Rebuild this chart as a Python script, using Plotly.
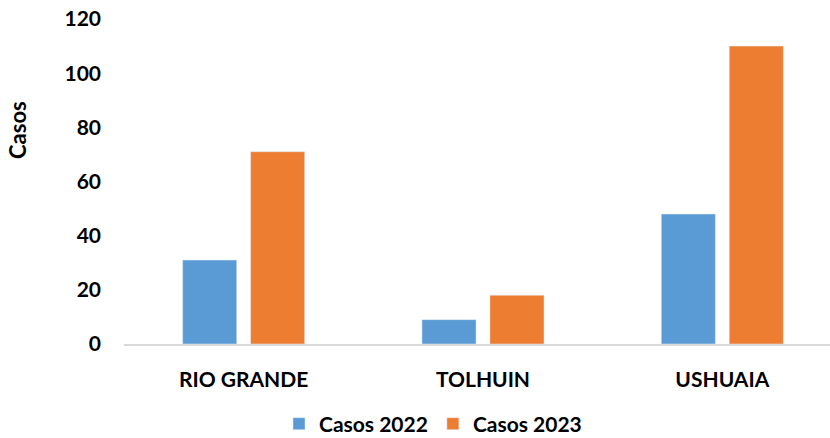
import plotly.graph_objects as go

categories = ["RIO GRANDE", "TOLHUIN", "USHUAIA"]
casos_2022 = [31, 9, 48]
casos_2023 = [71, 18, 110]
y_ticks = [0, 20, 40, 60, 80, 100, 120]

FONT = dict(family="Lato", size=21, color="black", weight="bold")

fig = go.Figure()
fig.add_trace(go.Bar(name="Casos 2022", x=categories, y=casos_2022, marker_color="#5B9BD5"))
fig.add_trace(go.Bar(name="Casos 2023", x=categories, y=casos_2023, marker_color="#ED7D31"))

W, H = 830, 438
L, R, T, B = 124, 0, 19, 94
PW, PH = W - L - R, H - T - B

fig.update_layout(
    width=W, height=H,
    margin=dict(l=L, r=R, t=T, b=B, autoexpand=False),
    paper_bgcolor="white", plot_bgcolor="white",
    barmode="group", bargap=0.432, bargroupgap=0.204,
    font=FONT,
    showlegend=True,
    legend=dict(orientation="h", x=(279 - L) / PW, xanchor="left", y=(H - B - 424) / PH,
                yanchor="middle", font=FONT, traceorder="normal"),
    xaxis=dict(range=[-0.5, 2.45], showgrid=False, showline=True, linecolor="#d9d9d9",
               linewidth=2, ticks="", ticklabelstandoff=16, tickfont=FONT, automargin=False),
    yaxis=dict(range=[0, 120], tickvals=y_ticks, showgrid=False, showline=False,
               zeroline=False, ticks="", ticklabelstandoff=22, tickfont=FONT, automargin=False),
    annotations=[dict(text="Casos", textangle=-90, xref="paper", yref="paper",
                      x=(17 - L) / PW, y=(H - B - 130) / PH,
                      xanchor="center", yanchor="middle", showarrow=False,
                      font=dict(family="Lato", size=22, color="black", weight="bold"))],
)

fig.write_html("out.html", config={"displayModeBar": False},
               post_script="document.body.style.margin='0';document.body.style.overflow='hidden';")
